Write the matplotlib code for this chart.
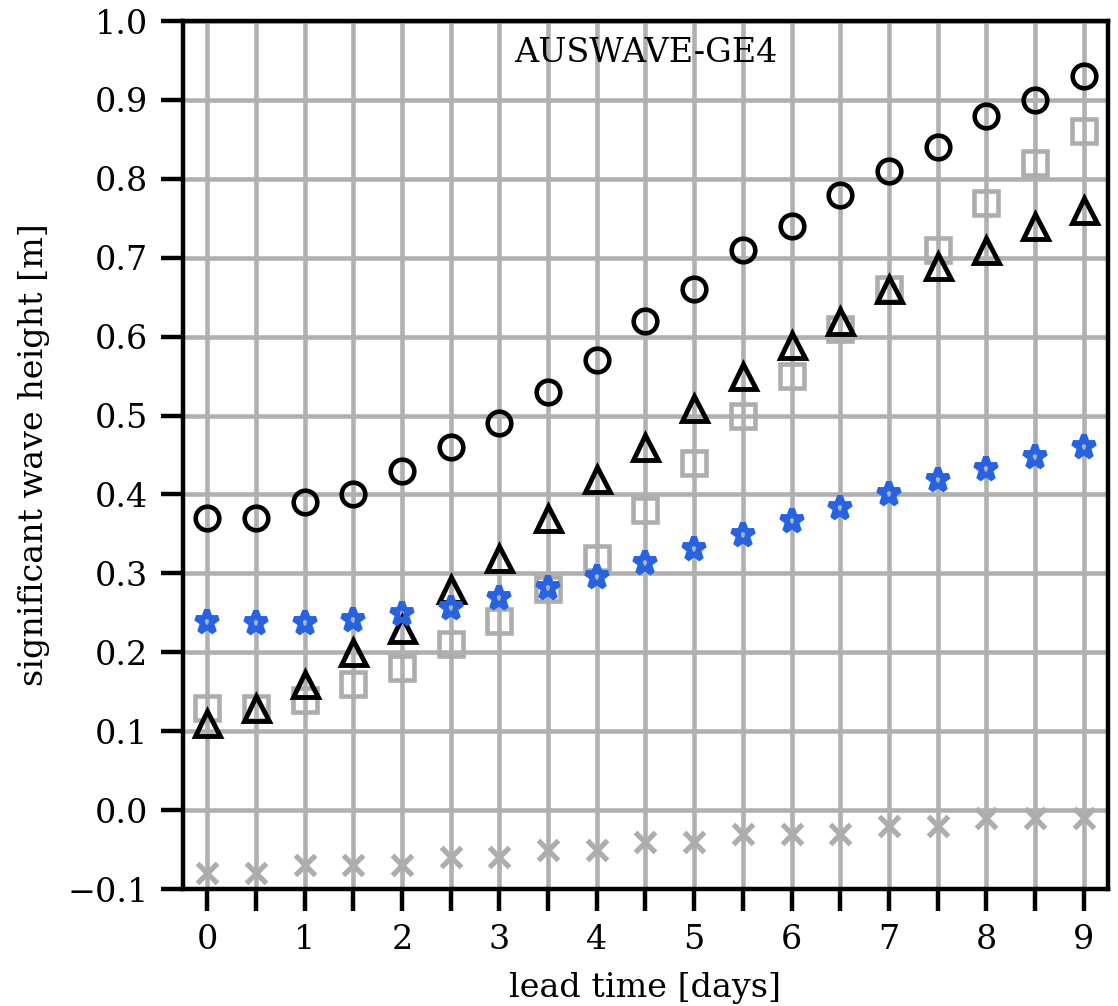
import numpy as np
import matplotlib
matplotlib.use("Agg")
import matplotlib.pyplot as plt

# lead times (days) and per-lead statistics
lead = np.arange(0, 9.01, 0.5)
rmse = [0.37, 0.37, 0.39, 0.40, 0.43, 0.46, 0.49, 0.53, 0.57, 0.62,
        0.66, 0.71, 0.74, 0.78, 0.81, 0.84, 0.88, 0.90, 0.93]
crps = [0.11, 0.13, 0.16, 0.20, 0.23, 0.28, 0.32, 0.37, 0.42, 0.46,
        0.51, 0.55, 0.59, 0.62, 0.66, 0.69, 0.71, 0.74, 0.76]
spread = [0.13, 0.13, 0.14, 0.16, 0.18, 0.21, 0.24, 0.28, 0.32, 0.38,
          0.44, 0.50, 0.55, 0.61, 0.66, 0.71, 0.77, 0.82, 0.86]
mae = [0.238, 0.237, 0.237, 0.241, 0.249, 0.256, 0.269, 0.281, 0.295, 0.313,
       0.331, 0.349, 0.366, 0.383, 0.400, 0.418, 0.432, 0.448, 0.460]
bias = [-0.08, -0.08, -0.07, -0.07, -0.07, -0.06, -0.06, -0.05, -0.05, -0.04,
        -0.04, -0.03, -0.03, -0.03, -0.02, -0.02, -0.01, -0.01, -0.01]

plt.rcParams['font.family'] = 'DejaVu Serif'
fs = 24

grey = '#adadad'
blue = '#2563e3'

fig = plt.figure(figsize=(11.18, 10.06), dpi=100)
ax = fig.add_axes([0.1637, 0.1163, 0.8273, 0.8628])

ax.plot(lead, rmse, 'o', ms=17, mfc='none', mec='k', mew=3.3, zorder=3)
ax.plot(lead, spread, 's', ms=17, mfc='none', mec=grey, mew=3.3, zorder=3)
ax.plot(lead, crps, '^', ms=18, mfc='none', mec='k', mew=3.5, zorder=3)
ax.plot(lead, mae, '*', ms=17, mfc='none', mec=blue, mew=4.2, zorder=3)
ax.plot(lead, bias, 'x', ms=15, mec=grey, mew=3.8, zorder=3)

ax.set_xlim(-0.25, 9.25)
ax.set_ylim(-0.1, 1.0)
ax.set_xticks(lead)
ax.set_xticklabels([str(int(v)) if v == int(v) else '' for v in lead])
ax.set_yticks(np.round(np.arange(-0.1, 1.01, 0.1), 1))
ax.tick_params(length=16, width=3.2, labelsize=fs, pad=9)
for s in ax.spines.values():
    s.set_linewidth(3.2)
ax.grid(True, color='#b0b0b0', linewidth=3.3, zorder=0)
ax.set_axisbelow(True)

ax.set_xlabel('lead time [days]', fontsize=fs, labelpad=12)
ax.set_ylabel('significant wave height [m]', fontsize=fs, labelpad=12)
ax.text(0.5, 0.963, 'AUSWAVE-GE4', transform=ax.transAxes,
        ha='center', va='center', fontsize=fs)

fig.savefig('out.png', dpi=100)
